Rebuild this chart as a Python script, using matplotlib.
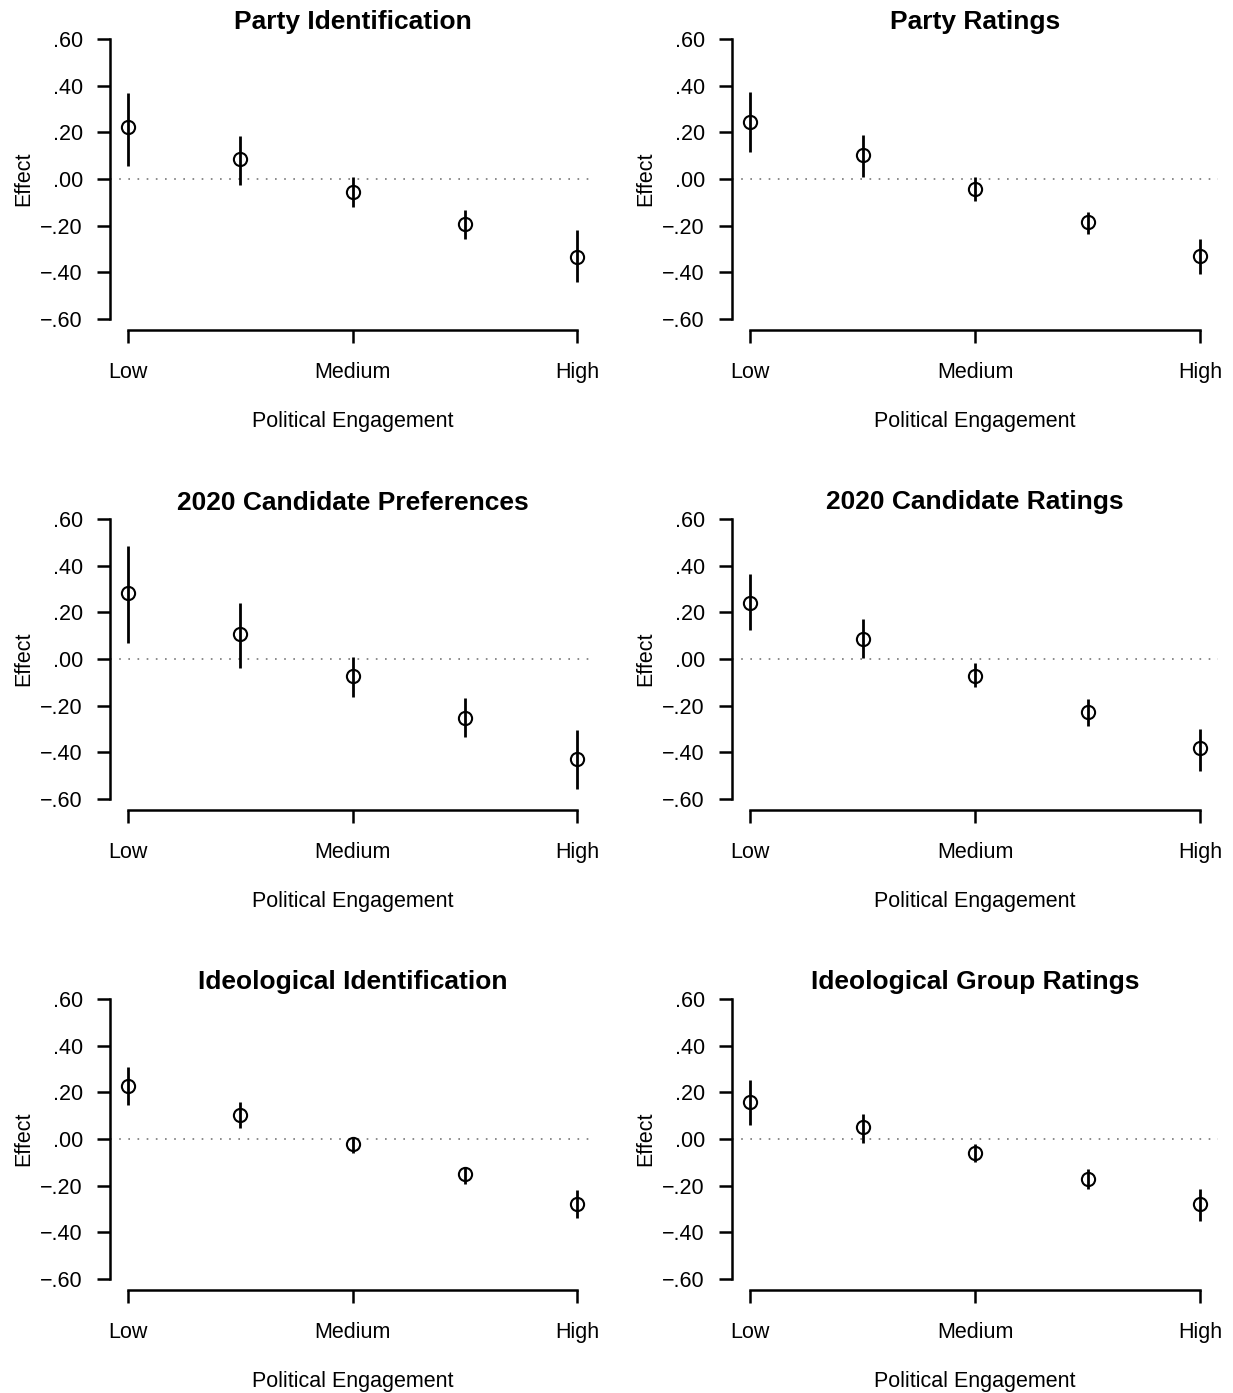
import matplotlib
matplotlib.use("Agg")
import matplotlib.pyplot as plt

plt.rcParams["font.family"] = ["Liberation Sans", "DejaVu Sans"]

levels = [1, 2, 3, 4, 5]
tick_positions = [1, 3, 5]
tick_labels = ["Low", "Medium", "High"]
y_ticks = [0.6, 0.4, 0.2, 0.0, -0.2, -0.4, -0.6]
y_tick_labels = [".60", ".40", ".20", ".00", "\u2212.20", "\u2212.40", "\u2212.60"]

titles = [
    "Party Identification",
    "Party Ratings",
    "2020 Candidate Preferences",
    "2020 Candidate Ratings",
    "Ideological Identification",
    "Ideological Group Ratings",
]

party_id_est = [0.223, 0.084, -0.056, -0.194, -0.334]
party_id_lo = [0.056, -0.026, -0.119, -0.256, -0.441]
party_id_hi = [0.371, 0.186, 0.010, -0.133, -0.221]

party_rat_est = [0.246, 0.101, -0.043, -0.186, -0.330]
party_rat_lo = [0.117, 0.010, -0.096, -0.234, -0.407]
party_rat_hi = [0.374, 0.187, 0.007, -0.141, -0.256]

cand_pref_est = [0.284, 0.106, -0.074, -0.254, -0.431]
cand_pref_lo = [0.067, -0.037, -0.164, -0.334, -0.559]
cand_pref_hi = [0.486, 0.241, 0.010, -0.169, -0.306]

cand_rat_est = [0.241, 0.084, -0.071, -0.227, -0.384]
cand_rat_lo = [0.126, 0.006, -0.121, -0.289, -0.480]
cand_rat_hi = [0.363, 0.171, -0.019, -0.171, -0.299]

ideo_id_est = [0.229, 0.103, -0.023, -0.149, -0.279]
ideo_id_lo = [0.147, 0.046, -0.061, -0.191, -0.341]
ideo_id_hi = [0.311, 0.157, 0.003, -0.119, -0.220]

ideo_grp_est = [0.160, 0.050, -0.060, -0.170, -0.281]
ideo_grp_lo = [0.059, -0.016, -0.097, -0.214, -0.351]
ideo_grp_hi = [0.253, 0.109, -0.023, -0.129, -0.213]

panels = [
    (party_id_est, party_id_lo, party_id_hi),
    (party_rat_est, party_rat_lo, party_rat_hi),
    (cand_pref_est, cand_pref_lo, cand_pref_hi),
    (cand_rat_est, cand_rat_lo, cand_rat_hi),
    (ideo_id_est, ideo_id_lo, ideo_id_hi),
    (ideo_grp_est, ideo_grp_lo, ideo_grp_hi),
]

W, H = 1233, 1393
fig = plt.figure(figsize=(W / 100, H / 100), dpi=100)

col_px = [(110, 595), (732, 1218)]
row_px = [(28, 330), (508, 810), (988, 1290)]

for i, (title, (est, lo, hi)) in enumerate(zip(titles, panels)):
    r, c = divmod(i, 2)
    x0, x1 = col_px[c]
    y0, y1 = row_px[r]
    ax = fig.add_axes([x0 / W, 1 - y1 / H, (x1 - x0) / W, (y1 - y0) / H])

    ax.axhline(0, color="#777777", lw=1.2, ls=(0, (1, 4.5)), zorder=1)
    ax.plot(levels, est, "o", ms=9.5, mfc="none", mec="black", mew=1.5,
            ls="none", zorder=2)
    ax.vlines(levels, lo, hi, color="black", lw=2.0, zorder=3)

    ax.set_xlim(0.84, 5.16)
    ax.set_ylim(-0.648, 0.648)

    for side in ("top", "right"):
        ax.spines[side].set_visible(False)
    ax.spines["left"].set_bounds(-0.6, 0.6)
    ax.spines["bottom"].set_bounds(1, 5)
    ax.spines["left"].set_linewidth(1.8)
    ax.spines["bottom"].set_linewidth(1.8)

    ax.set_yticks(y_ticks)
    ax.set_yticklabels(y_tick_labels)
    ax.set_xticks(tick_positions)
    ax.set_xticklabels(tick_labels)
    ax.tick_params(axis="both", length=9.5, width=1.8, labelsize=15.5,
                   colors="black")
    ax.tick_params(axis="y", pad=10)
    ax.tick_params(axis="x", pad=13.5)

    ax.text(0.5, 1 - 1.5 / (y1 - y0), title, transform=ax.transAxes,
            ha="center", va="baseline", fontsize=19, fontweight="bold")
    ax.set_xlabel("Political Engagement", fontsize=15.5, labelpad=20)
    ax.set_ylabel("Effect", fontsize=15.5, labelpad=4.2)

fig.savefig("out.png", dpi=100, facecolor="white")
